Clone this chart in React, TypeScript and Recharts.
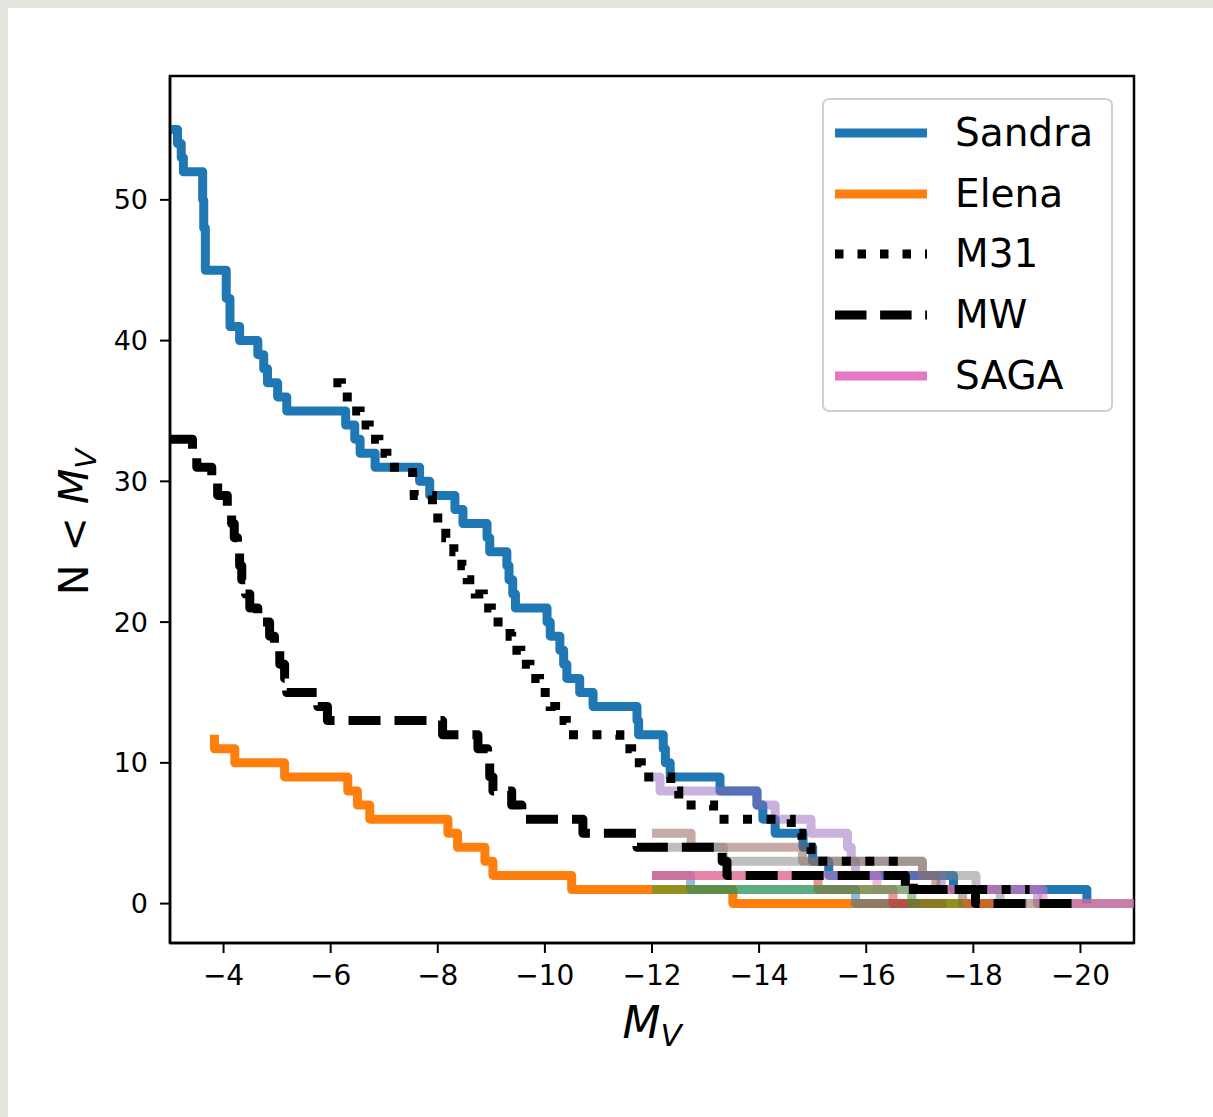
import React from "react";
import { LineChart, Line, XAxis, YAxis, ReferenceArea } from "recharts";

// [M_V, N] pairs: N holds from this M_V toward brighter magnitudes until the next pair
const sandra: [number, number][] = [
  [-3.0, 55], [-3.14, 54], [-3.21, 53], [-3.25, 52], [-3.61, 50], [-3.63, 48], [-3.66, 45],
  [-4.05, 43], [-4.12, 41], [-4.3, 40], [-4.64, 39], [-4.75, 38], [-4.82, 37], [-5.01, 36],
  [-5.18, 35], [-6.28, 34], [-6.45, 33], [-6.55, 32], [-6.83, 31], [-7.66, 30], [-7.85, 29],
  [-8.32, 28], [-8.47, 27], [-8.92, 26], [-8.97, 25], [-9.29, 24], [-9.33, 23], [-9.4, 22],
  [-9.45, 21], [-10.04, 20], [-10.1, 19], [-10.28, 18], [-10.35, 17], [-10.41, 16],
  [-10.65, 15], [-10.9, 14], [-11.72, 13], [-11.75, 12], [-12.21, 11], [-12.25, 10],
  [-12.34, 9], [-13.27, 8], [-13.96, 7], [-14.07, 6], [-14.3, 5], [-14.82, 4], [-15.0, 3],
  [-15.3, 2], [-17.63, 1], [-20.12, 0],
];

const elena: [number, number][] = [
  [-3.83, 12], [-3.83, 11], [-4.21, 10], [-5.14, 9], [-6.32, 8], [-6.5, 7], [-6.73, 6],
  [-8.19, 5], [-8.37, 4], [-8.88, 3], [-9.03, 2], [-10.5, 1], [-13.51, 0], [-18.6, 0],
];

const m31: [number, number][] = [
  [-6.05, 37], [-6.2, 36], [-6.4, 35], [-6.55, 34], [-6.72, 33], [-6.9, 32], [-7.05, 31],
  [-7.53, 30], [-7.56, 29], [-7.9, 28], [-8.0, 27], [-8.15, 26], [-8.3, 25], [-8.45, 24],
  [-8.55, 23], [-8.7, 22], [-8.85, 21], [-9.0, 20], [-9.35, 19], [-9.38, 18], [-9.55, 17],
  [-9.72, 16], [-9.9, 15], [-10.1, 14], [-10.2, 13], [-10.4, 12], [-11.4, 11], [-11.62, 10],
  [-11.8, 9], [-12.35, 8], [-12.5, 7], [-13.15, 6], [-14.6, 5], [-14.8, 4], [-14.97, 3],
  [-16.6, 2], [-16.88, 1], [-19.05, 1],
];

const mw: [number, number][] = [
  [-3.0, 33], [-3.42, 32], [-3.5, 31], [-3.78, 30], [-3.89, 29], [-4.07, 28], [-4.15, 27],
  [-4.2, 26], [-4.26, 25], [-4.3, 24], [-4.34, 23], [-4.41, 22], [-4.49, 21], [-4.64, 20],
  [-4.86, 19], [-4.95, 18], [-5.05, 17], [-5.14, 16], [-5.18, 15], [-5.76, 14], [-5.94, 13],
  [-8.09, 12], [-8.75, 11], [-8.93, 10], [-8.97, 9], [-9.03, 8], [-9.38, 7], [-9.57, 6],
  [-10.71, 5], [-11.72, 4], [-13.31, 3], [-13.4, 2], [-16.73, 1], [-18.04, 0], [-20.05, 0],
];

const sagaPurple: [number, number][] = [
  [-12, 9], [-12.15, 8], [-13.96, 7], [-14.3, 6], [-14.97, 5], [-15.65, 4], [-15.72, 3],
  [-15.8, 2], [-17.4, 1], [-19.2, 0], [-21, 0],
];
const sagaBrown: [number, number][] = [
  [-12, 5], [-12.73, 4], [-14.81, 3], [-17.05, 2], [-17.3, 1], [-17.8, 0], [-21, 0],
];
const sagaGrey: [number, number][] = [
  [-12, 4], [-13.33, 3], [-17.05, 2], [-18.05, 1], [-18.5, 0], [-19.0, 0],
];
const sagaPink: [number, number][] = [
  [-12, 2], [-16.2, 1], [-19.3, 0], [-21, 0],
];
const sagaRed: [number, number][] = [
  [-12, 2], [-15.1, 1], [-16.5, 0], [-17.5, 0],
];
const sagaBlue: [number, number][] = [
  [-12, 2], [-12.72, 1], [-15.8, 0], [-17.0, 0],
];
const sagaGreen: [number, number][] = [
  [-12, 1], [-16.85, 0], [-17.8, 0],
];

const xTicks = [-4, -6, -8, -10, -12, -14, -16, -18, -20];
const yTicks = [0, 10, 20, 30, 40, 50];

const legendItems = [
  { label: "Sandra", color: "#1f77b4", dash: undefined as string | undefined },
  { label: "Elena", color: "#ff7f0e", dash: undefined },
  { label: "M31", color: "#000000", dash: "8.5 14" },
  { label: "MW", color: "#000000", dash: "31.5 13.6" },
  { label: "SAGA", color: "#e377c2", dash: undefined },
];

const toRows = (pts: [number, number][]) => pts.map(([x, n]) => ({ x, n }));

const FONT = "'DejaVu Sans', sans-serif";
const LW = 9;

const fmt = (v: number) => (v < 0 ? "\u2212" + Math.abs(v) : String(v));

export default function App() {
  const sagaSeries: { name: string; pts: [number, number][]; color: string }[] = [
    { name: "sagaBlue", pts: sagaBlue, color: "#1f77b4" },
    { name: "sagaPurple", pts: sagaPurple, color: "#9467bd" },
    { name: "sagaBrown", pts: sagaBrown, color: "#8c564b" },
    { name: "sagaGrey", pts: sagaGrey, color: "#7f7f7f" },
    { name: "sagaRed", pts: sagaRed, color: "#d62728" },
    { name: "sagaPink", pts: sagaPink, color: "#e377c2" },
    { name: "sagaGreen", pts: sagaGreen, color: "#2ca02c" },
  ];
  return (
    <div style={{ position: "absolute", left: 0, top: 0, width: 1213, height: 1117, background: "#e4e4df", fontFamily: FONT }}>
      <div style={{ position: "absolute", left: 8, top: 8, right: 0, bottom: 0, background: "#ffffff" }} />
      <div style={{ position: "absolute", left: 0, top: 0 }}>
        <LineChart width={1213} height={1117} margin={{ top: 76, right: 79, bottom: 144, left: 110 }}>
          <XAxis
            type="number"
            dataKey="x"
            domain={[-21, -3]}
            reversed
            allowDataOverflow
            ticks={xTicks}
            tickFormatter={fmt}
            height={30}
            tickSize={10}
            tickMargin={12}
            stroke="#000"
            strokeWidth={2.5}
            tick={{ fill: "#000", fontSize: 28, fontFamily: FONT }}
            tickLine={{ stroke: "#000", strokeWidth: 2 }}
          />
          <YAxis
            type="number"
            dataKey="n"
            domain={[-2.8, 58.8]}
            allowDataOverflow
            ticks={yTicks}
            width={60}
            tickSize={10}
            tickMargin={12}
            stroke="#000"
            strokeWidth={2.5}
            tick={{ fill: "#000", fontSize: 27, fontFamily: FONT }}
            tickLine={{ stroke: "#000", strokeWidth: 2 }}
          />
          <Line data={toRows(sandra)} dataKey="n" type="stepAfter" stroke="#1f77b4" strokeWidth={LW} dot={false} isAnimationActive={false} strokeLinejoin="round" />
          <Line data={toRows(elena)} dataKey="n" type="stepAfter" stroke="#ff7f0e" strokeWidth={LW} dot={false} isAnimationActive={false} strokeLinejoin="round" />
          {sagaSeries.map((s) => (
            <Line
              key={s.name}
              data={toRows(s.pts)}
              dataKey="n"
              type="stepAfter"
              stroke={s.color}
              strokeOpacity={0.5}
              strokeWidth={LW}
              dot={false}
              isAnimationActive={false}
              strokeLinejoin="round"
            />
          ))}
          <Line data={toRows(m31)} dataKey="n" type="stepAfter" stroke="#000" strokeWidth={LW} strokeDasharray="9 14.5" dot={false} isAnimationActive={false} />
          <Line data={toRows(mw)} dataKey="n" type="stepAfter" stroke="#000" strokeWidth={LW} strokeDasharray="32 14" dot={false} isAnimationActive={false} strokeLinejoin="round" />
          <ReferenceArea x1={-21} x2={-3} y1={-2.8} y2={58.8} fill="none" stroke="#000" strokeWidth={2.5} ifOverflow="visible" />
        </LineChart>
      </div>
      <svg width={1213} height={1117} style={{ position: "absolute", left: 0, top: 0, pointerEvents: "none" }}>
        <text transform="translate(88,522) rotate(-90)" textAnchor="middle" fontSize={41} fontFamily={FONT} fill="#000">
          N &lt; <tspan fontStyle="italic">M</tspan>
          <tspan fontStyle="italic" fontSize={29} dy={8}>V</tspan>
        </text>
        <text x={652} y={1038} textAnchor="middle" fontSize={44} fontFamily={FONT} fill="#000">
          <tspan fontStyle="italic">M</tspan>
          <tspan fontStyle="italic" fontSize={31} dy={8}>V</tspan>
        </text>
      </svg>
      <div
        style={{
          position: "absolute",
          left: 822,
          top: 98,
          width: 287,
          height: 310,
          border: "2.5px solid #d0d0d0",
          borderRadius: 7,
          background: "rgba(255,255,255,0.8)",
        }}
      >
        {legendItems.map((it, i) => (
          <div key={it.label} style={{ position: "absolute", left: 0, top: 33 + i * 60.7 - 30, height: 60, width: 287 }}>
            <svg width={100} height={60} style={{ position: "absolute", left: 9, top: 0 }}>
              <line x1={2} y1={30} x2={94} y2={30} stroke={it.color} strokeWidth={LW} strokeDasharray={it.dash} />
            </svg>
            <span style={{ position: "absolute", left: 131, top: 7, fontSize: 39, lineHeight: "46px", color: "#000", fontFamily: FONT }}>
              {it.label}
            </span>
          </div>
        ))}
      </div>
    </div>
  );
}
